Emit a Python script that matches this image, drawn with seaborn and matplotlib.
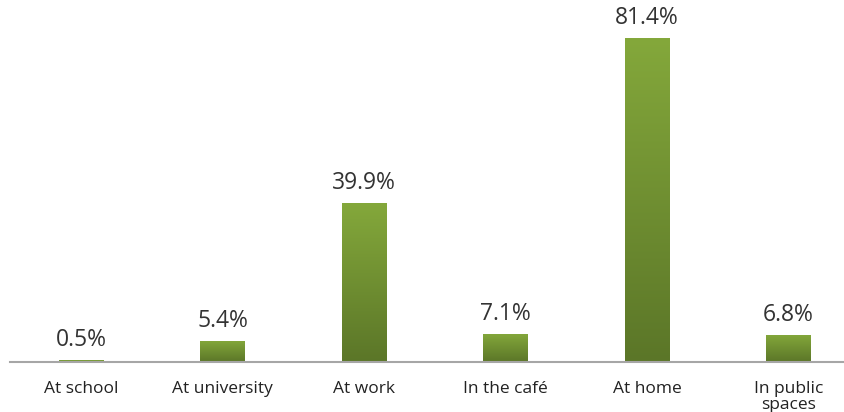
import numpy as np
import matplotlib
matplotlib.use("Agg")
import matplotlib.pyplot as plt
from matplotlib.colors import LinearSegmentedColormap
import seaborn as sns
import pandas as pd

places = ["At school", "At university", "At work", "In the café", "At home", "In public\nspaces"]
shares = [0.5, 5.4, 39.9, 7.1, 81.4, 6.8]

sns.set_theme(style="white")
plt.rcParams["font.family"] = ["Open Sans", "DejaVu Sans"]

df = pd.DataFrame({"place": places, "share": shares})

fig = plt.figure(figsize=(8.45, 4.12), dpi=100)
ax = fig.add_axes([10 / 845, 50 / 412, 835 / 845, 358 / 412])

sns.barplot(data=df, x="place", y="share", ax=ax, color="#6f8f32",
            width=0.318, saturation=1, edgecolor="none")

# vertical gradient fill for each bar
grad = LinearSegmentedColormap.from_list("g", ["#5b7628", "#84a83b"])
img = np.linspace(0, 1, 256).reshape(-1, 1)
for bar in ax.patches:
    x0, y0 = bar.get_x(), bar.get_y()
    w, h = bar.get_width(), bar.get_height()
    im = ax.imshow(img, cmap=grad, origin="lower", aspect="auto",
                   extent=(x0, x0 + w, y0, y0 + h), zorder=bar.get_zorder() + 0.1)
    im.set_clip_path(bar)

for bar, v in zip(ax.patches, shares):
    ax.text(bar.get_x() + bar.get_width() / 2, bar.get_height() + 2.0, f"{v}%",
            ha="center", va="bottom", fontsize=16.5, color="#333333")

ax.set_xlim(-0.502, 5.399)
ax.set_ylim(0, 90)
ax.set_xlabel("")
ax.set_ylabel("")
ax.set_yticks([])
ax.tick_params(axis="x", length=0, pad=14, labelsize=12.5, labelcolor="#222222")
for s in ["top", "right", "left"]:
    ax.spines[s].set_visible(False)
ax.spines["bottom"].set_color("#a6a6a6")
ax.spines["bottom"].set_linewidth(1.5)
for lab in ax.get_xticklabels():
    lab.set_linespacing(0.95)
    lab.set_va("top")

fig.savefig("out.png", dpi=100)
